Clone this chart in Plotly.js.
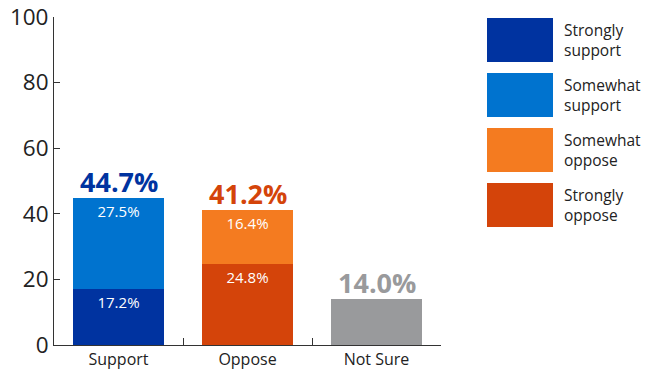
<!DOCTYPE html>
<html><head><meta charset="utf-8">
<script src="https://cdn.plot.ly/plotly-3.0.1.min.js"></script>
<style>body{margin:0}#c{width:660px;height:373px}</style>
</head><body><div id="c"></div>
<script>
const categories = ['Support', 'Oppose', 'Not Sure'];
const seriesNames = ['Strongly support', 'Somewhat support', 'Somewhat oppose', 'Strongly oppose'];
const legendLabels = ['Strongly<br>support', 'Somewhat<br>support', 'Somewhat<br>oppose', 'Strongly<br>oppose'];
const stronglySupport = [17.2];
const somewhatSupport = [27.5];
const stronglyOppose = [24.8];
const somewhatOppose = [16.4];
const notSure = [14.0];
const totals = [44.7, 41.2, 14.0];
const yTicks = [0, 20, 40, 60, 80, 100];

const colors = {ss:'#0033a0', sws:'#0073cf', swo:'#f47b20', so:'#d4440a', ns:'#999a9c'};
const totalColors = [colors.ss, colors.so, colors.ns];
const font = 'Open Sans, sans-serif';

function seg(x, y, color, name){
  return {type:'bar', x:x, y:y, name:name, marker:{color:color}, width:0.71,
    text:y.map(v=>v.toFixed(1)+'%'), textposition:'inside', insidetextanchor:'end',
    textfont:{color:'#ffffff', size:15, family:font}, hoverinfo:'skip', showlegend:false};
}
const data = [
  seg(['Support'], stronglySupport, colors.ss, seriesNames[0]),
  seg(['Support'], somewhatSupport, colors.sws, seriesNames[1]),
  seg(['Oppose'], stronglyOppose, colors.so, seriesNames[3]),
  seg(['Oppose'], somewhatOppose, colors.swo, seriesNames[2]),
  {type:'bar', x:['Not Sure'], y:notSure, marker:{color:colors.ns}, width:0.71, showlegend:false, hoverinfo:'skip'}
];

const annotations = categories.map((c,i)=>({
  x:c, y:totals[i], xref:'x', yref:'y', yanchor:'bottom', showarrow:false, yshift:-4,
  text:'<b>'+totals[i].toFixed(1)+'%</b>', font:{size:27, color:totalColors[i], family:font}
}));
const legColors = [colors.ss, colors.sws, colors.swo, colors.so];
const shapes = [];
const boxTop = [18, 73, 128, 183];
for (let i=0;i<4;i++){
  const y0 = 1 - (boxTop[i]-17)/328;
  const y1 = 1 - (boxTop[i]+44-17)/328;
  const x0 = (487-54)/387, x1 = (553-54)/387;
  shapes.push({type:'rect', xref:'paper', yref:'paper', x0:x0, x1:x1, y0:y1, y1:y0, fillcolor:legColors[i], line:{width:0}});
  annotations.push({xref:'paper', yref:'paper', x:(562-54)/387, y:(y0+y1)/2, xanchor:'left', yanchor:'middle', align:'left',
    showarrow:false, text:legendLabels[i], font:{size:15.5, color:'#222', family:font}});
}

const layout = {
  width:660, height:373, margin:{l:54, r:219, t:17, b:28},
  paper_bgcolor:'#fff', plot_bgcolor:'#fff', barmode:'stack', showlegend:false,
  font:{family:font, color:'#222'},
  xaxis:{type:'category', categoryorder:'array', categoryarray:categories, range:[-0.5,2.5],
    showline:true, linecolor:'#333', linewidth:1, ticks:'inside', tickson:'boundaries', ticklen:7, tickcolor:'#333',
    tickfont:{size:16, color:'#222', family:font}, showgrid:false, fixedrange:true},
  yaxis:{range:[0,100], tickvals:yTicks, showline:true, linecolor:'#333', linewidth:1, ticks:'inside', ticklen:6, tickcolor:'#333',
    tickfont:{size:22.5, color:'#222', family:font}, showgrid:false, zeroline:false, fixedrange:true},
  annotations:annotations, shapes:shapes
};
Plotly.newPlot('c', data, layout, {displayModeBar:false, staticPlot:true});
</script></body></html>
